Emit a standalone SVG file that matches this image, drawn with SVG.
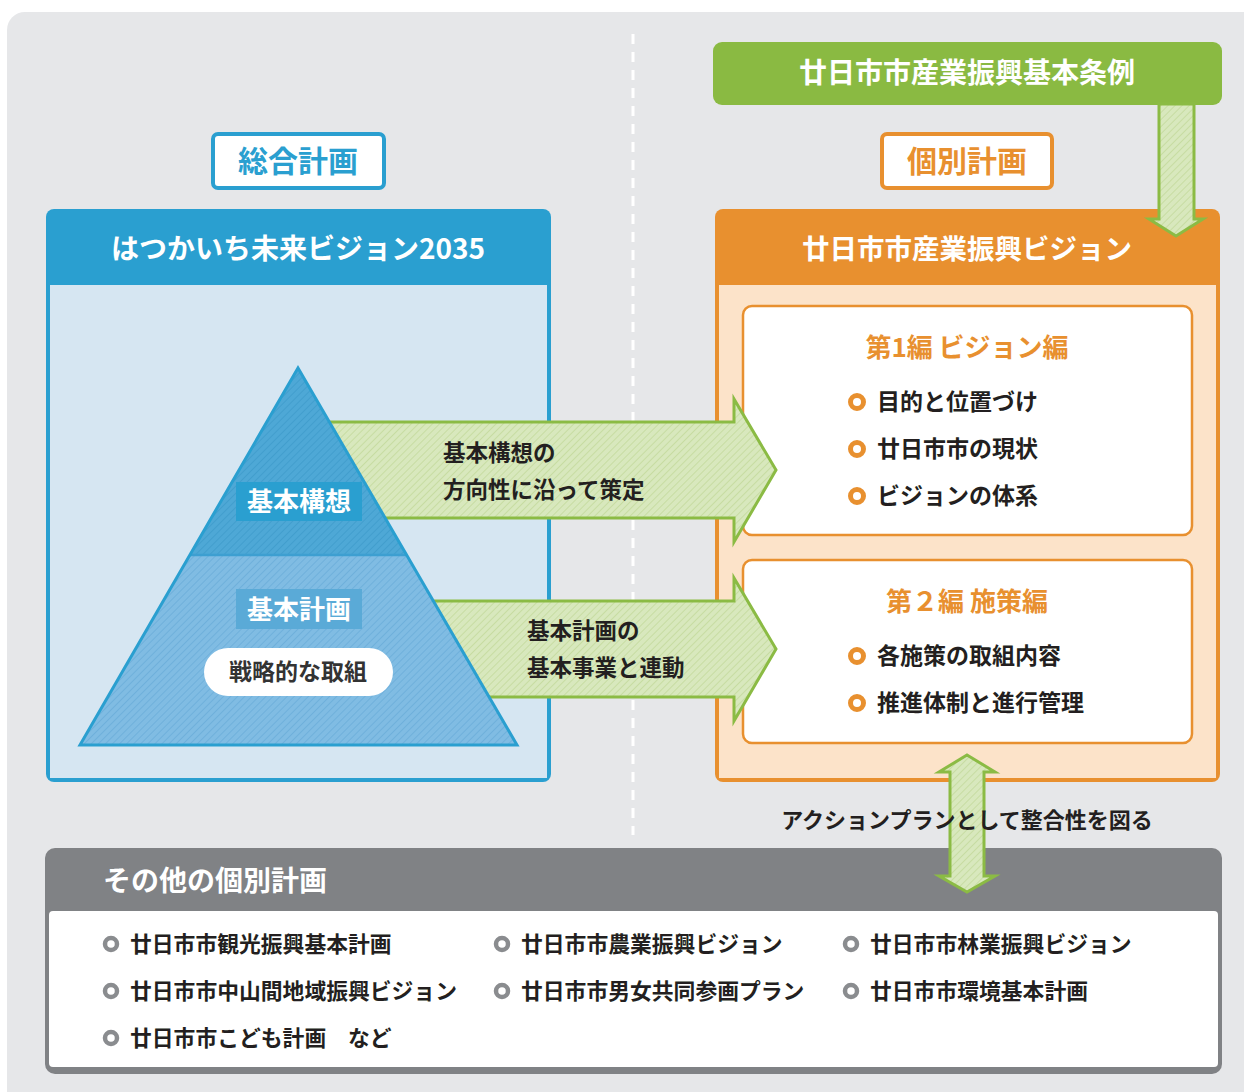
<svg xmlns="http://www.w3.org/2000/svg" width="1244" height="1092" viewBox="0 0 1244 1092">
<defs>
<pattern id="hG" width="5" height="5" patternUnits="userSpaceOnUse" patternTransform="rotate(45)"><rect width="5" height="5" fill="#d8e8bd"/><line x1="0" y1="0" x2="0" y2="5" stroke="#c3da9b" stroke-width="1.6"/></pattern>
<pattern id="hB1" width="5" height="5" patternUnits="userSpaceOnUse" patternTransform="rotate(45)"><rect width="5" height="5" fill="#4ea8d6"/><line x1="0" y1="0" x2="0" y2="5" stroke="#3e9bcb" stroke-width="1.6"/></pattern>
<pattern id="hB2" width="5" height="5" patternUnits="userSpaceOnUse" patternTransform="rotate(45)"><rect width="5" height="5" fill="#80bce3"/><line x1="0" y1="0" x2="0" y2="5" stroke="#6badd9" stroke-width="1.6"/></pattern>
<style>
text{font-family:"Noto Sans CJK JP","Noto Sans",sans-serif;font-weight:bold;dominant-baseline:central}
.w{fill:#fff}
.d{fill:#231f20}
.c{text-anchor:middle}
.arrow{fill:url(#hG);stroke:#8bbb44;stroke-width:3;stroke-linejoin:miter}
.ob{fill:#fff;stroke:#e8902f;stroke-width:5}
.gb{fill:#fff;stroke:#8a8c8f;stroke-width:4.5}
.it{font-size:23px}
.at{font-size:22.5px}
.bt{font-size:21.8px}
</style>
</defs>
<rect x="7" y="12" width="1260" height="1100" rx="18" fill="#e6e7e9"/>
<line x1="633" y1="34" x2="633" y2="835" stroke="#fff" stroke-width="3" stroke-dasharray="10 8"/>

<g id="label-sogo">
<rect x="213" y="134" width="171" height="54" rx="5" fill="#fff" stroke="#2a9fd0" stroke-width="4"/>
<text x="298" y="159" class="c" font-size="30" fill="#2a9fd0">総合計画</text>
</g>

<g id="label-kobetsu">
<rect x="882" y="134" width="170" height="54" rx="5" fill="#fff" stroke="#e8902f" stroke-width="4"/>
<text x="967" y="159" class="c" font-size="30" fill="#e8902f">個別計画</text>
</g>

<g id="jorei">
<rect x="713" y="42" width="509" height="63" rx="9" fill="#8aba42"/>
<text x="967" y="71" class="c w" font-size="28">廿日市市産業振興基本条例</text>
</g>

<g id="mirai-vision">
<rect x="46" y="209" width="505" height="573" rx="8" fill="#2a9fd0"/>
<rect x="50" y="285" width="497" height="493" fill="#d6e6f2"/>
<text x="298" y="247" class="c w" font-size="28">はつかいち未来ビジョン2035</text>
</g>

<g id="sangyo-vision">
<rect x="715" y="209" width="505" height="573" rx="8" fill="#e8902f"/>
<rect x="719" y="285" width="497" height="493" fill="#fce3c9"/>
<text x="967" y="247" class="c w" font-size="27.5">廿日市市産業振興ビジョン</text>
</g>

<g id="hen1">
<rect x="743" y="306" width="449" height="229" rx="9" fill="#fff" stroke="#e8902f" stroke-width="2.5"/>
<text x="967" y="345" class="c" font-size="26" fill="#e8902f">第1編 ビジョン編</text>
<circle cx="857" cy="402" r="6.5" class="ob"/>
<text x="877" y="400" class="d it">目的と位置づけ</text>
<circle cx="857" cy="449" r="6.5" class="ob"/>
<text x="877" y="447" class="d it">廿日市市の現状</text>
<circle cx="857" cy="496" r="6.5" class="ob"/>
<text x="877" y="494" class="d it">ビジョンの体系</text>
</g>

<g id="hen2">
<rect x="743" y="560" width="449" height="183" rx="9" fill="#fff" stroke="#e8902f" stroke-width="2.5"/>
<text x="967" y="599" class="c" font-size="26" fill="#e8902f">第２編 施策編</text>
<circle cx="857" cy="656" r="6.5" class="ob"/>
<text x="877" y="654" class="d it">各施策の取組内容</text>
<circle cx="857" cy="703" r="6.5" class="ob"/>
<text x="877" y="701" class="d it">推進体制と進行管理</text>
</g>

<g id="other-plans">
<rect x="45" y="848" width="1177" height="226" rx="10" fill="#808285"/>
<rect x="49" y="911" width="1169" height="156" rx="4" fill="#fff"/>
<text x="103" y="879" class="w" font-size="28">その他の個別計画</text>
<circle cx="111" cy="944" r="6" class="gb"/>
<text x="130" y="942" class="d bt">廿日市市観光振興基本計画</text>
<circle cx="502" cy="944" r="6" class="gb"/>
<text x="521" y="942" class="d bt">廿日市市農業振興ビジョン</text>
<circle cx="851" cy="944" r="6" class="gb"/>
<text x="870" y="942" class="d bt">廿日市市林業振興ビジョン</text>
<circle cx="111" cy="991" r="6" class="gb"/>
<text x="130" y="989" class="d bt">廿日市市中山間地域振興ビジョン</text>
<circle cx="502" cy="991" r="6" class="gb"/>
<text x="521" y="989" class="d bt">廿日市市男女共同参画プラン</text>
<circle cx="851" cy="991" r="6" class="gb"/>
<text x="870" y="989" class="d bt">廿日市市環境基本計画</text>
<circle cx="111" cy="1038" r="6" class="gb"/>
<text x="130" y="1036" class="d bt">廿日市市こども計画　など</text>
</g>

<g id="connectors">
<polygon class="arrow" points="1159,104 1194,104 1194,219 1203,219 1176,236 1149,219 1159,219"/>
<polygon class="arrow" points="300,422 734,422 734,399 776,470 734,542 734,518 300,518"/>
<polygon class="arrow" points="300,601 734,601 734,578 776,649 734,721 734,697 300,697"/>
<polygon class="arrow" points="967,755 995,772 984,772 984,876 995,876 967,892 939,876 950,876 950,772 939,772"/>
</g>

<g id="arrow-labels">
<text x="443" y="451" class="d at">基本構想の</text>
<text x="443" y="488" class="d at">方向性に沿って策定</text>
<text x="527" y="629" class="d at">基本計画の</text>
<text x="527" y="666" class="d at">基本事業と連動</text>
<text x="967" y="818" class="c d" font-size="22">アクションプランとして整合性を図る</text>
</g>

<g id="pyramid">
<polygon points="298,368 190,555 406,555" fill="url(#hB1)"/>
<polygon points="190,555 406,555 517,745 80,745" fill="url(#hB2)"/>
<line x1="190" y1="555" x2="406" y2="555" stroke="#3d9fd1" stroke-width="2.5"/>
<polygon points="298,368 517,745 80,745" fill="none" stroke="#2a9fd0" stroke-width="3" stroke-linejoin="miter"/>
</g>

<g id="kihon-koso">
<rect x="236" y="482" width="126" height="39" fill="#2a9fd0"/>
<text x="299" y="499" class="c w" font-size="26">基本構想</text>
</g>

<g id="kihon-keikaku">
<rect x="236" y="589" width="126" height="40" fill="#5aaad7"/>
<text x="299" y="607" class="c w" font-size="26">基本計画</text>
</g>

<g id="senryaku">
<rect x="204" y="648" width="189" height="48" rx="24" fill="#fff"/>
<text x="298" y="670" class="c" font-size="23" fill="#333">戦略的な取組</text>
</g>
</svg>
